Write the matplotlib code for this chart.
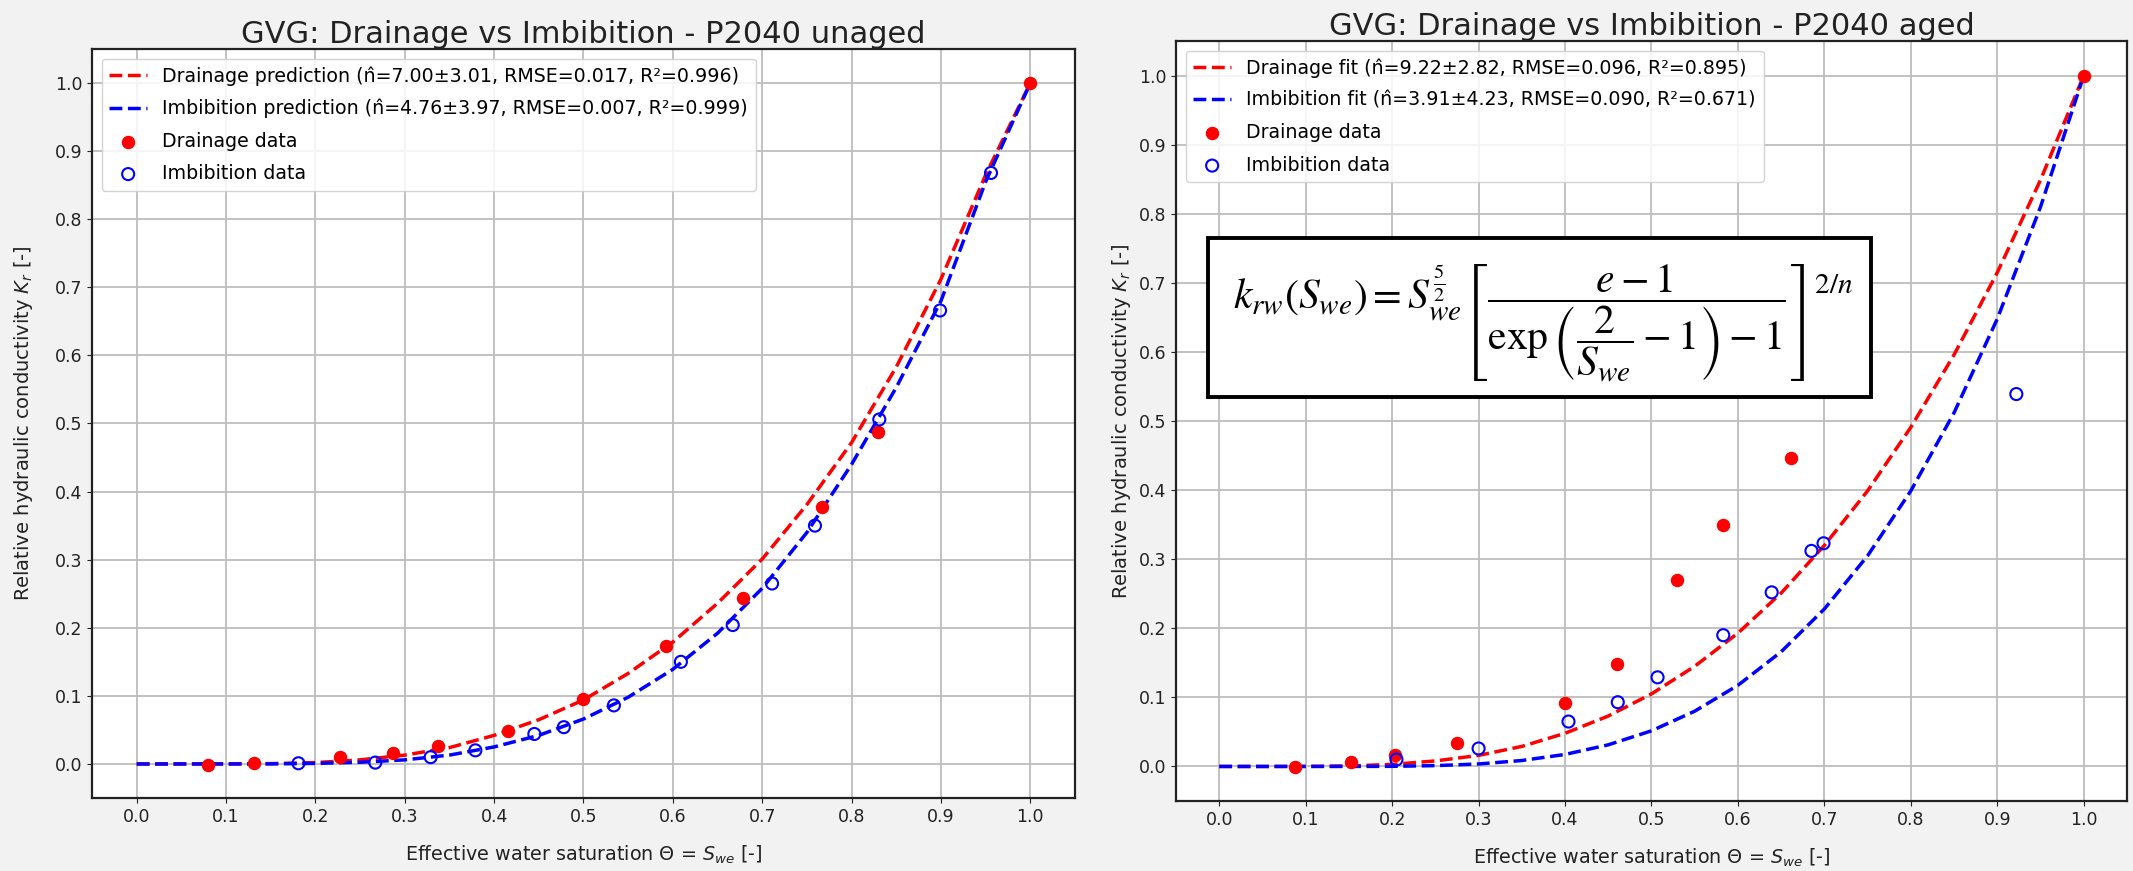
import matplotlib
matplotlib.use('Agg')
import matplotlib.pyplot as plt
from matplotlib.patches import Rectangle

# ---------------- data ----------------
curve_s = [0.00, 0.05, 0.10, 0.15, 0.20, 0.25, 0.30, 0.35, 0.40, 0.45, 0.50,
           0.55, 0.60, 0.65, 0.70, 0.75, 0.80, 0.85, 0.90, 0.95, 1.00]

# unaged panel
unaged_drain_curve = [0, 0, 0.0001, 0.0005, 0.002, 0.006, 0.013, 0.024, 0.042, 0.065, 0.094,
                      0.133, 0.179, 0.236, 0.301, 0.381, 0.472, 0.583, 0.712, 0.865, 1.0]
unaged_imb_curve = [0, 0, 0, 0.0001, 0.0008, 0.0025, 0.006, 0.013, 0.025, 0.042, 0.066,
                    0.098, 0.139, 0.192, 0.258, 0.340, 0.440, 0.553, 0.680, 0.855, 1.0]
unaged_drain_sw = [0.080, 0.131, 0.227, 0.287, 0.337, 0.416, 0.500, 0.592, 0.678, 0.767, 0.829, 1.0]
unaged_drain_kr = [-0.001, 0.002, 0.010, 0.016, 0.026, 0.049, 0.095, 0.173, 0.243, 0.377, 0.488, 1.0]
unaged_imb_sw = [0.181, 0.267, 0.329, 0.379, 0.445, 0.478, 0.534, 0.609, 0.667, 0.711, 0.759,
                 0.831, 0.899, 0.956]
unaged_imb_kr = [0.001, 0.002, 0.010, 0.020, 0.044, 0.054, 0.086, 0.150, 0.204, 0.265, 0.350,
                 0.506, 0.666, 0.868]

# aged panel
aged_drain_curve = [0, 0, 0.0001, 0.0007, 0.003, 0.008, 0.016, 0.029, 0.048, 0.073, 0.105,
                    0.145, 0.193, 0.251, 0.320, 0.399, 0.491, 0.596, 0.715, 0.849, 1.0]
aged_imb_curve = [0, 0, 0, 0, 0.0002, 0.0012, 0.0036, 0.0086, 0.0174, 0.0313, 0.0516,
                  0.080, 0.1175, 0.166, 0.228, 0.305, 0.399, 0.512, 0.648, 0.810, 1.0]
aged_drain_sw = [0.088, 0.152, 0.203, 0.275, 0.400, 0.460, 0.529, 0.583, 0.661, 1.0]
aged_drain_kr = [-0.001, 0.007, 0.016, 0.034, 0.092, 0.149, 0.270, 0.349, 0.447, 1.0]
aged_imb_sw = [0.205, 0.300, 0.404, 0.461, 0.507, 0.583, 0.639, 0.685, 0.699, 0.922]
aged_imb_kr = [0.010, 0.026, 0.065, 0.093, 0.129, 0.190, 0.252, 0.312, 0.323, 0.539]

ticks = [0.0, 0.1, 0.2, 0.3, 0.4, 0.5, 0.6, 0.7, 0.8, 0.9, 1.0]
tick_labels = ['0.0', '0.1', '0.2', '0.3', '0.4', '0.5', '0.6', '0.7', '0.8', '0.9', '1.0']

titles = ['GVG: Drainage vs Imbibition - P2040 unaged',
          'GVG: Drainage vs Imbibition - P2040 aged']
labels_unaged = ['Drainage prediction (n\u0302=7.00\u00b13.01, RMSE=0.017, R\u00b2=0.996)',
                 'Imbibition prediction (n\u0302=4.76\u00b13.97, RMSE=0.007, R\u00b2=0.999)',
                 'Drainage data', 'Imbibition data']
labels_aged = ['Drainage fit (n\u0302=9.22\u00b12.82, RMSE=0.096, R\u00b2=0.895)',
               'Imbibition fit (n\u0302=3.91\u00b14.23, RMSE=0.090, R\u00b2=0.671)',
               'Drainage data', 'Imbibition data']
xlabel = 'Effective water saturation \u0398 = $S_{we}$ [-]'
ylabel = 'Relative hydraulic conductivity $K_r$ [-]'
formula = (r'$k_{rw}(S_{we}) = S_{we}^{\frac{5}{2}}'
           r'\left[\dfrac{e-1}{\exp\left(\dfrac{2}{S_{we}}-1\right)-1}\right]^{2/n}$')

# ---------------- figure ----------------
W, H = 2133, 871
fig = plt.figure(figsize=(W / 100, H / 100), dpi=100, facecolor='#f2f2f2')
plt.rcParams['font.family'] = ['DejaVu Sans']

ax1 = fig.add_axes([92 / W, 1 - 798 / H, 983 / W, 749 / H])
ax2 = fig.add_axes([1176 / W, 1 - 801 / H, 951 / W, 760 / H])


def draw(ax, title, labels, dc, ic, dsw, dkr, isw, ikr):
    ax.plot(curve_s, dc, '--', color='red', lw=2.5, label=labels[0], zorder=3)
    ax.plot(curve_s, ic, '--', color='blue', lw=2.5, label=labels[1], zorder=3)
    ax.scatter(dsw, dkr, s=75, color='red', label=labels[2], zorder=4)
    ax.scatter(isw, ikr, s=75, facecolors='none', edgecolors='blue', linewidths=1.5,
               label=labels[3], zorder=5)
    ax.set_xlim(-0.05, 1.05)
    ax.set_ylim(-0.05, 1.05)
    ax.set_xticks(ticks)
    ax.set_xticklabels(tick_labels)
    ax.set_yticks(ticks)
    ax.set_yticklabels(tick_labels)
    ax.tick_params(labelsize=12.5, colors='#222222')
    ax.grid(True, color='#bdbdbd', lw=1.3)
    ax.set_axisbelow(True)
    for sp in ax.spines.values():
        sp.set_color('#222222')
        sp.set_linewidth(1.6)
    ax.set_title(title, fontsize=22, color='#222222', pad=4)
    ax.set_xlabel(xlabel, fontsize=13.8, color='#222222', labelpad=13)
    ax.set_ylabel(ylabel, fontsize=14, color='#222222')
    ax.legend(loc='upper left', fontsize=13.7, framealpha=0.85, edgecolor='#cccccc',
              labelspacing=0.7)


draw(ax1, titles[0], labels_unaged, unaged_drain_curve, unaged_imb_curve,
     unaged_drain_sw, unaged_drain_kr, unaged_imb_sw, unaged_imb_kr)
draw(ax2, titles[1], labels_aged, aged_drain_curve, aged_imb_curve,
     aged_drain_sw, aged_drain_kr, aged_imb_sw, aged_imb_kr)

ax1.yaxis.set_label_coords(-0.058, 0.5)
ax2.yaxis.set_label_coords(-0.045, 0.5)

# formula box
bx0, bx1 = (1208 - 1176) / 951, (1871 - 1176) / 951
by0, by1 = (801 - 397) / 760, (801 - 238) / 760
ax2.add_patch(Rectangle((bx0, by0), bx1 - bx0, by1 - by0, transform=ax2.transAxes,
                        facecolor='white', edgecolor='black', lw=2.8, zorder=10))
ax2.text(bx0 + 0.505 * (bx1 - bx0), by0 + 0.46 * (by1 - by0), formula, transform=ax2.transAxes,
         ha='center', va='center', fontsize=30, math_fontfamily='stix', zorder=11)

fig.savefig('out.png', dpi=100, facecolor=fig.get_facecolor())
